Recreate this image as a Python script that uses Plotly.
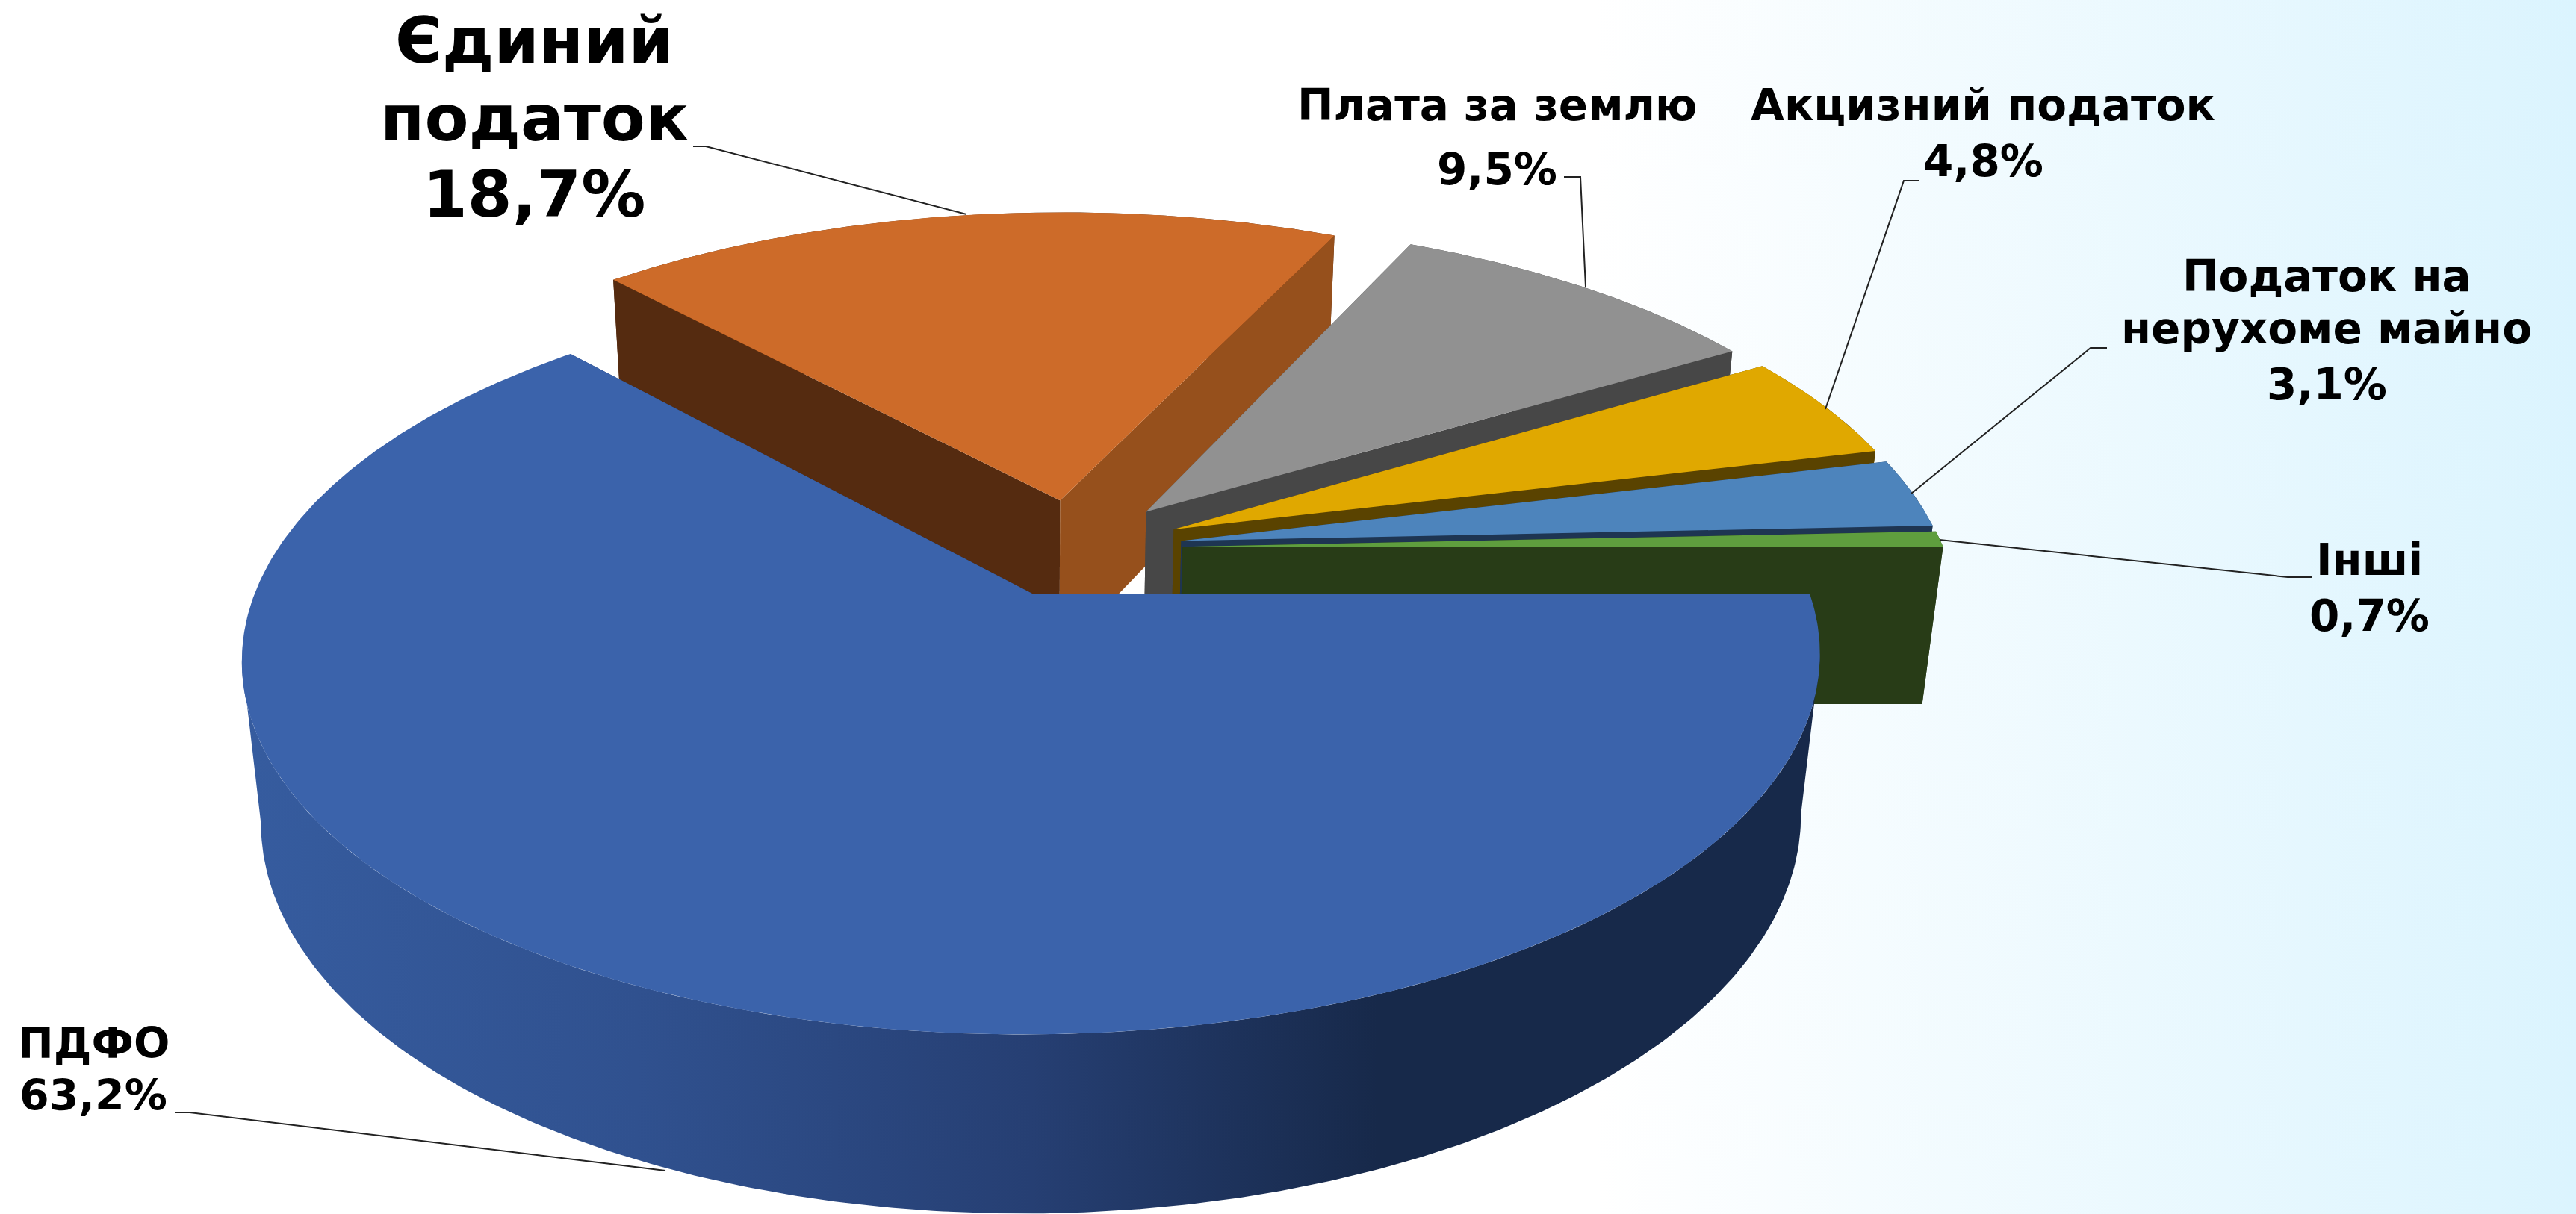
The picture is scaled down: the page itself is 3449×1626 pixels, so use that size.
import numpy as np
import plotly.graph_objects as go

# ---- data ----
categories = ["ПДФО", "Єдиний податок", "Плата за землю", "Акцизний податок",
              "Податок на нерухоме майно", "Інші"]
values = [63.2, 18.7, 9.5, 4.8, 3.1, 0.7]
value_labels = ["63,2%", "18,7%", "9,5%", "4,8%", "3,1%", "0,7%"]

top_colors = ["#3B63AB", "#CD6B29", "#919191", "#E0A800", "#4D84BC", "#5F9E3E"]
ccw_wall_colors = ["#2A4675", "#552B10", "#474747", "#5A4300", "#1E3552", "#283C17"]
cw_wall_colors = ["#2A4675", "#96501C", "#474747", "#5A4300", "#1E3552", "#283C17"]
rim_gradient = [[0, "#365C9F"], [0.25, "#30518F"], [0.5, "#263F73"], [0.72, "#17294A"], [1, "#17294A"]]

# ---- view of the pie (perspective projection) ----
W, H = 3449, 1626
CX, CY = 1382, 795
RX, RY = 1041, 490
K_V, K_Z = 0.17, 0.024
SKEW = 10
DEPTH = 219
EXPLODE = 0.14
ORIGIN = (0.0564, 0.128)


def project(u, v, z):
    w = 1 + K_V * v - K_Z * z
    return CX + (RX * u + SKEW * v) / w, CY - (RY * v + DEPTH * z) / w


def polygon(points, color=None, gradient=None):
    xs = [p[0] for p in points]
    ys = [p[1] for p in points]
    kw = dict(fillgradient=gradient) if gradient else dict(fillcolor=color)
    return go.Scatter(x=xs, y=ys, mode="lines", fill="toself", line=dict(width=0),
                      hoverinfo="skip", showlegend=False, **kw)


fig = go.Figure()

# page background
fig.add_trace(polygon([(0, 0), (W, 0), (W, H), (0, H)],
                      gradient=dict(type="horizontal", start=0, stop=W,
                                    colorscale=[[0, "#FFFFFF"], [0.62, "#FFFFFF"], [1, "#DBF4FE"]])))

# slices, clockwise from the +x axis
total = sum(values)
edges = np.radians(360 - np.cumsum([0] + values) / total * 360)
slices = []
for i in range(len(values)):
    a0, a1 = edges[i + 1], edges[i]  # a0 = clockwise-most edge, a1 = counter-clockwise-most edge
    if i == 0:
        a0, a1 = edges[1], edges[0]
    mid = (a0 + a1) / 2
    ou = ORIGIN[0] + EXPLODE * np.cos(mid)
    ov = ORIGIN[1] + EXPLODE * np.sin(mid)
    slices.append((i, a0, a1, ou, ov))

# far slices first, the big front slice last
for i, a0, a1, ou, ov in slices[1:] + slices[:1]:
    th = np.linspace(a0, a1, 360)
    top = [project(ou + np.cos(t), ov + np.sin(t), 0) for t in th]
    bot = [project(ou + np.cos(t), ov + np.sin(t), -1) for t in th]
    apex_t = project(ou, ov, 0)
    apex_b = project(ou, ov, -1)
    # outer rim
    if i == 0:
        tx = [p[0] for p in top]
        bx = [p[0] for p in bot]
        front_top = top[int(np.argmin(tx)):int(np.argmax(tx)) + 1]
        front_bot = bot[int(np.argmin(bx)):int(np.argmax(bx)) + 1]
        fig.add_trace(polygon(front_top + front_bot[::-1],
                              gradient=dict(type="horizontal", start=326, stop=2436, colorscale=rim_gradient)))
    else:
        fig.add_trace(polygon(top + bot[::-1], ccw_wall_colors[i]))
    # walls on both straight sides of the slice
    fig.add_trace(polygon([apex_t, top[-1], bot[-1], apex_b], ccw_wall_colors[i]))
    fig.add_trace(polygon([apex_t, top[0], bot[0], apex_b], cw_wall_colors[i]))
    fig.add_trace(polygon([apex_t] + top, top_colors[i]))

# ---- labels ----
SMALL, BIG, MED = 58, 86, 57
label_lines = [
    ("ПДФО", 125, 1397, MED), (value_labels[0], 125, 1467, MED),
    ("Єдиний", 715, 54, BIG), ("податок", 715, 158, BIG), (value_labels[1], 715, 260, BIG),
    ("Плата за землю", 2004, 141, SMALL), (value_labels[2], 2004, 227, SMALL),
    ("Акцизний податок", 2655, 141, SMALL), (value_labels[3], 2655, 216, SMALL),
    ("Податок на", 3115, 370, SMALL), ("нерухоме майно", 3115, 440, SMALL), (value_labels[4], 3115, 515, SMALL),
    ("Інші", 3172, 750, SMALL), (value_labels[5], 3172, 825, SMALL),
]
for text, x, y, size in label_lines:
    fig.add_annotation(x=x, y=y, text="<b>%s</b>" % text, showarrow=False,
                       xanchor="center", yanchor="middle",
                       font=dict(family="DejaVu Sans", size=size, color="#000000"))

# ---- leader lines ----
leaders = [
    [(234, 1490), (254, 1490), (891, 1568)],
    [(928, 196), (945, 196), (1294, 287)],
    [(2094, 237), (2116, 237), (2123, 384)],
    [(2569, 242), (2549, 242), (2444, 548)],
    [(2821, 466), (2799, 466), (2559, 661)],
    [(3095, 773), (3063, 773), (2597, 723)],
]
for pts in leaders:
    fig.add_trace(go.Scatter(x=[p[0] for p in pts], y=[p[1] for p in pts], mode="lines",
                             line=dict(color="#222222", width=2), hoverinfo="skip", showlegend=False))

fig.update_layout(
    width=W, height=H, margin=dict(l=0, r=0, t=0, b=0),
    paper_bgcolor="#FFFFFF", plot_bgcolor="#FFFFFF", showlegend=False,
    xaxis=dict(range=[0, W], visible=False, fixedrange=True),
    yaxis=dict(range=[H, 0], visible=False, fixedrange=True),
)
fig.write_html("out.html", config=dict(displayModeBar=False),
               post_script="document.body.style.margin='0';document.body.style.overflow='hidden';")
